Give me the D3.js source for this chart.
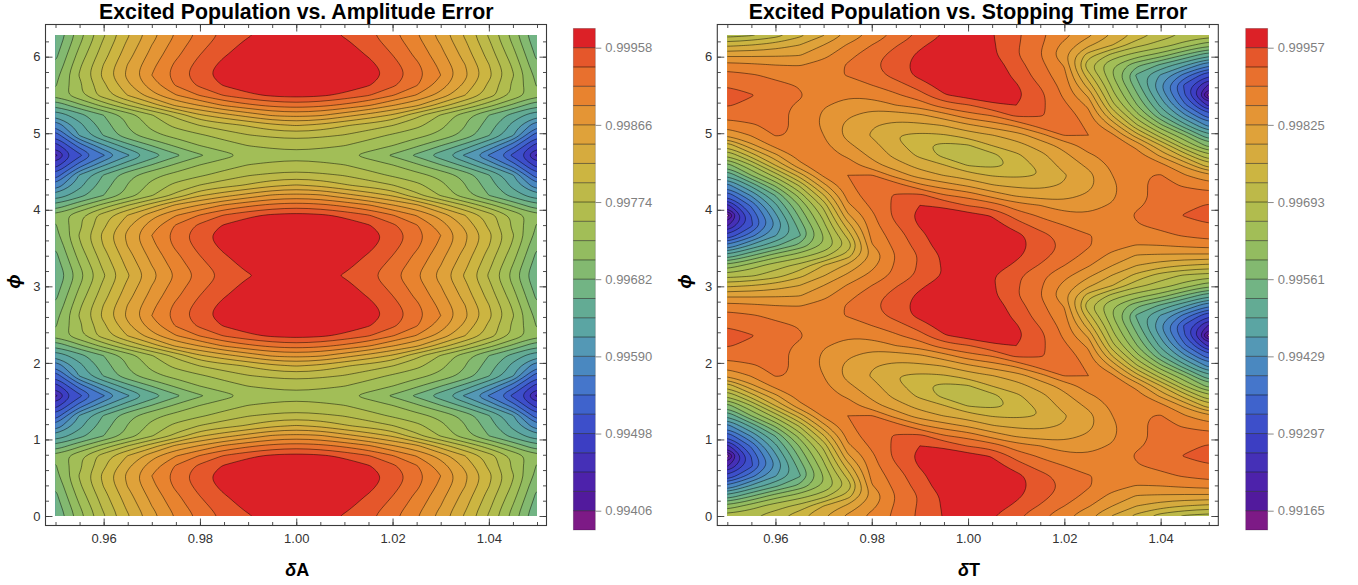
<!DOCTYPE html>
<html><head><meta charset="utf-8">
<script src="https://cdn.jsdelivr.net/npm/d3@7/dist/d3.min.js"></script>
<style>
html,body{margin:0;padding:0;background:#fff}
svg{display:block}
text{font-family:"Liberation Sans",Arial,sans-serif}
</style></head><body>
<svg id="c" width="1358" height="585"></svg>
<script>
// Populations are stored as (P - 0.99) * 1e5, i.e. 958 means 0.99958.
// Each row runs over the error axis 0.95, 0.955, ... 1.05; rows step pi/24 in phi.
const errorValues = d3.range(21).map(i => 0.95 + i * 0.005);
const phaseValues = d3.range(49).map(i => i * Math.PI / 24);

const a0 =[659,718,771,817,857,891,919,941,956,966,969,966,956,941,919,891,857,817,771,718,659];
const a1 =[668,727,780,826,866,900,927,949,964,973,976,973,964,949,927,900,866,826,780,727,668];
const a2 =[676,737,788,834,874,907,935,956,971,980,983,980,971,956,935,907,874,834,788,737,676];
const a3 =[684,747,798,844,883,917,944,965,980,990,993,990,980,965,944,917,883,844,798,747,684];
const a4 =[696,753,804,849,889,922,949,970,985,994,997,994,985,970,949,922,889,849,804,753,696];
const a5 =[703,746,792,838,878,914,940,960,975,982,986,982,975,960,940,914,878,838,792,746,703];
const a6 =[710,747,786,821,857,888,914,937,952,963,967,963,952,937,914,888,857,821,786,747,710];
const a7 =[664,700,737,774,809,848,868,892,907,919,924,919,907,892,868,848,809,774,737,700,664];
const a8 =[618,650,682,714,749,781,817,835,852,869,874,869,852,835,817,781,749,714,682,650,618];
const a9 =[572,629,671,706,735,758,775,788,800,815,822,815,800,788,775,758,735,706,671,629,572];
const a10=[528,616,661,698,721,736,748,760,773,779,783,779,773,760,748,736,721,698,661,616,528];
const a11=[487,556,611,652,684,710,729,741,752,756,758,756,752,741,729,710,684,652,611,556,487];
const a12=[446,515,565,610,645,677,702,720,734,741,744,741,734,720,702,677,645,610,565,515,446];
const amplitudeGrid = [a0,a1,a2,a3,a4,a5,a6,a7,a8,a9,a10,a11,a12,a11,a10,a9,a8,a7,a6,a5,a4,a3,a2,a1,a0,
                       a1,a2,a3,a4,a5,a6,a7,a8,a9,a10,a11,a12,a11,a10,a9,a8,a7,a6,a5,a4,a3,a2,a1,a0];

const s0 =[677,688,710,749,790,832,868,899,931,959,983,959,931,899,868,832,790,749,710,688,677];
const s1 =[602,644,678,703,759,799,848,896,929,962,987,977,950,921,891,861,825,792,772,759,749];
const s2 =[502,558,611,644,680,743,832,891,927,964,987,990,964,937,908,881,848,823,820,818,817];
const s3 =[396,469,521,571,629,700,855,901,939,977,1000,1000,970,942,917,894,871,856,858,865,871];
const s4 =[297,383,459,523,627,738,868,908,947,983,1003,1000,967,937,908,893,881,878,884,894,904];
const s5 =[226,323,429,543,650,776,878,921,960,988,998,974,941,909,891,876,876,889,898,909,922];
const s6 =[148,332,455,568,673,818,884,934,967,980,972,954,911,886,870,861,875,894,908,926,937];
const s7 =[254,370,487,597,705,851,898,931,957,950,922,909,873,858,838,848,861,888,898,916,927];
const s8 =[337,434,530,640,756,871,911,927,934,894,879,845,820,809,813,830,853,884,898,903,904];
const s9 =[416,505,601,698,815,886,906,908,865,840,820,794,784,782,795,817,851,886,898,888,873];
const s10=[495,594,675,774,865,891,893,845,809,791,774,756,751,759,789,815,858,888,893,861,825];
const s11=[578,660,759,848,883,875,838,807,779,761,724,716,733,772,802,832,865,883,870,817,739];
const s12=[660,743,818,875,871,853,817,782,752,715,695,715,752,782,817,853,871,875,818,743,660];
const s13=[739,817,870,883,865,832,802,772,733,716,724,761,779,807,838,875,883,848,759,660,578];
const s14=[825,861,893,888,858,815,789,759,751,756,774,791,809,845,893,891,865,774,675,594,495];
const s15=[873,888,898,886,851,817,795,782,784,794,820,840,865,908,906,886,815,698,601,505,416];
const s16=[904,903,898,884,853,830,813,809,820,845,879,894,934,927,911,871,756,640,530,434,337];
const s17=[927,916,898,888,861,848,838,858,873,909,922,950,957,931,898,851,705,597,487,370,254];
const s18=[937,926,908,894,875,861,870,886,911,954,972,980,967,934,884,818,673,568,455,332,148];
const s19=[922,909,898,889,876,876,891,909,941,974,998,988,960,921,878,776,650,543,429,323,226];
const s20=[904,894,884,878,881,893,908,937,967,1000,1003,983,947,908,868,738,627,523,459,383,297];
const s21=[871,865,858,856,871,894,917,942,970,1000,1000,977,939,901,855,700,629,571,521,469,396];
const s22=[817,818,820,823,848,881,908,937,964,990,987,964,927,891,832,743,680,644,611,558,502];
const s23=[749,759,772,792,825,861,891,921,950,977,987,962,929,896,848,799,759,703,678,644,602];
const stoppingGrid = [s0,s1,s2,s3,s4,s5,s6,s7,s8,s9,s10,s11,s12,s13,s14,s15,s16,s17,s18,s19,s20,s21,s22,s23,s0,
                      s1,s2,s3,s4,s5,s6,s7,s8,s9,s10,s11,s12,s13,s14,s15,s16,s17,s18,s19,s20,s21,s22,s23,s0];

const amplitudeLevels = [406,429,452,475,498,521,544,567,590,613,636,659,682,705,728,751,774,797,820,843,866,889,912,935,958];
const stoppingLevels  = [165,198,231,264,297,330,363,396,429,462,495,528,561,594,627,660,693,726,759,792,825,858,891,924,957];
const amplitudeBarTicks = [406,498,590,682,774,866,958];
const stoppingBarTicks  = [165,297,429,561,693,825,957];
const bandColors = ["#7d1a86","#521a9d","#4d22ab","#4530b7","#3c3ec3","#3d4fca","#3f63cc","#4576cb","#4a88c0","#5498b5","#5ba5a3","#63ab94","#72b484","#83b970","#93bc60","#a2be57","#b1bc4e","#bdb949","#ccb541","#d6ab3e","#dfa23a","#e49535","#e8832f","#e8702e","#e5572b","#dc2127"];
const xTickValues = [0.96,0.98,1.00,1.02,1.04];
const xMinorValues = d3.range(21).map(i => 0.95 + i * 0.005);
const phiTickValues = [0,1,2,3,4,5,6];
const phiMinorValues = d3.range(32).map(i => i * 0.2);

const svg = d3.select("#c");
const FRAME = "#3a3a3a";

function panel(o){
  const x = d3.scaleLinear().domain([0.95,1.05]).range([o.x0, o.x0 + 481.5]);
  const y = d3.scaleLinear().domain([0,2*Math.PI]).range([516,35]);
  const g = svg.append("g");
  const id = "clip" + o.x0;
  g.append("clipPath").attr("id",id).append("rect")
    .attr("x",x(0.95)).attr("y",y(2*Math.PI)).attr("width",x(1.05)-x(0.95)).attr("height",y(0)-y(2*Math.PI));

  // one padded row and column so that rings close outside the clipped plot area
  const nx = errorValues.length, ny = phaseValues.length;
  const padded = [];
  for(let j=-1;j<=ny;j++) for(let i=-1;i<=nx;i++){
    padded.push(o.grid[Math.max(0,Math.min(ny-1,j))][Math.max(0,Math.min(nx-1,i))]);
  }
  const contours = d3.contours().size([nx+2,ny+2]).thresholds(o.levels).smooth(true)(padded);
  const cx = c => x(0.95 + (c-1.5)*0.005);
  const cy = c => y((c-1.5)*Math.PI/24);
  const line = d3.line().x(p=>cx(p[0])).y(p=>cy(p[1])).curve(d3.curveBasisClosed);
  const plot = g.append("g").attr("clip-path",`url(#${id})`);
  plot.append("rect").attr("x",x(0.95)).attr("y",y(2*Math.PI)).attr("width",x(1.05)-x(0.95)).attr("height",y(0)-y(2*Math.PI)).attr("fill",bandColors[0]);
  contours.forEach((c,i)=>{
    let dstr = "";
    c.coordinates.forEach(poly=>poly.forEach(ring=>{ dstr += line(ring.slice(0,-1)); }));
    if(!dstr) return;
    plot.append("path").attr("d",dstr).attr("fill",bandColors[i+1]).attr("fill-rule","evenodd")
      .attr("stroke","#000").attr("stroke-opacity",0.62).attr("stroke-width",0.75);
  });

  // frame and ticks
  const left=x(0.95)-10, right=x(1.05)+9.5, top=24.5, bottom=525.5;
  g.append("rect").attr("x",left).attr("y",top).attr("width",right-left).attr("height",bottom-top)
    .attr("fill","none").attr("stroke",FRAME).attr("stroke-width",1.1);
  const style = s => { s.select(".domain").remove(); s.selectAll("line").attr("stroke",FRAME).attr("stroke-width",0.9);
    s.selectAll("text").attr("fill","#333").attr("font-size",13).attr("font-family",'"Liberation Sans",Arial,sans-serif'); };
  g.append("g").attr("transform",`translate(0,${bottom})`).call(d3.axisBottom(x).tickValues(xMinorValues).tickSize(-3.5).tickFormat("")).call(style);
  g.append("g").attr("transform",`translate(0,${bottom})`).call(d3.axisBottom(x).tickValues(xTickValues).tickSize(-7).tickPadding(8.5).tickFormat(d3.format(".2f"))).call(style);
  g.append("g").attr("transform",`translate(0,${top})`).call(d3.axisTop(x).tickValues(xMinorValues).tickSize(-3.5).tickFormat("")).call(style);
  g.append("g").attr("transform",`translate(0,${top})`).call(d3.axisTop(x).tickValues(xTickValues).tickSize(-7).tickFormat("")).call(style);
  g.append("g").attr("transform",`translate(${left},0)`).call(d3.axisLeft(y).tickValues(phiMinorValues).tickSize(-3.5).tickFormat("")).call(style);
  g.append("g").attr("transform",`translate(${left},0)`).call(d3.axisLeft(y).tickValues(phiTickValues).tickSize(-7).tickPadding(5).tickFormat(d3.format("d"))).call(style);
  g.append("g").attr("transform",`translate(${right},0)`).call(d3.axisRight(y).tickValues(phiMinorValues).tickSize(-3.5).tickFormat("")).call(style);
  g.append("g").attr("transform",`translate(${right},0)`).call(d3.axisRight(y).tickValues(phiTickValues).tickSize(-7).tickFormat("")).call(style);

  // titles and axis labels
  g.append("text").attr("x",x(1)).attr("y",18.5).attr("text-anchor","middle").attr("font-size",21.3).attr("font-weight","bold").attr("fill","#000").text(o.title);
  g.append("text").attr("x",x(1)+1).attr("y",576).attr("text-anchor","middle").attr("font-size",18).attr("font-weight","bold").attr("fill","#000")
    .call(t=>{t.append("tspan").attr("font-style","italic").text("δ"); t.append("tspan").text(o.xName);});
  g.append("text").attr("transform",`translate(${left-26},${y(Math.PI)+6}) rotate(-90)`).attr("text-anchor","middle").attr("font-size",19).attr("font-weight","bold").attr("font-style","italic").attr("fill","#000").text("ϕ");

  // colour bar
  const by = d3.scaleLinear().domain([o.levels[0],o.levels[24]]).range([510.7,47.7]);
  const step = o.levels[1]-o.levels[0];
  const bx = o.barX, bw = 22;
  const edges = [o.levels[0]-step, ...o.levels, o.levels[24]+step];
  const bar = g.append("g");
  bandColors.forEach((col,i)=>{
    bar.append("rect").attr("x",bx).attr("width",bw).attr("y",by(edges[i+1])).attr("height",by(edges[i])-by(edges[i+1])).attr("fill",col);
  });
  o.levels.forEach(l=>{
    bar.append("line").attr("x1",bx).attr("x2",bx+bw).attr("y1",by(l)).attr("y2",by(l)).attr("stroke","#000").attr("stroke-opacity",0.62).attr("stroke-width",0.8);
  });
  bar.append("rect").attr("x",bx).attr("width",bw).attr("y",by(edges[26])).attr("height",by(edges[0])-by(edges[26])).attr("fill","none").attr("stroke","#000").attr("stroke-opacity",0.25).attr("stroke-width",0.8);
  const baxis = d3.axisRight(by).tickValues(o.barTicks).tickSize(6).tickPadding(4).tickFormat(v=>(0.99+v*1e-5).toFixed(5));
  const ba = g.append("g").attr("transform",`translate(${bx+bw},0)`).call(baxis);
  ba.select(".domain").remove();
  ba.selectAll("line").attr("stroke","#8a8a8a").attr("stroke-width",1);
  ba.selectAll("text").attr("fill","#7f7f7f").attr("font-size",13).attr("font-family",'"Liberation Sans",Arial,sans-serif');
}

panel({x0:55.5,grid:amplitudeGrid,levels:amplitudeLevels,barTicks:amplitudeBarTicks,barX:573.3,title:"Excited Population vs. Amplitude Error",xName:"A"});
panel({x0:727.3,grid:stoppingGrid,levels:stoppingLevels,barTicks:stoppingBarTicks,barX:1245.7,title:"Excited Population vs. Stopping Time Error",xName:"T"});
</script>
</body></html>
